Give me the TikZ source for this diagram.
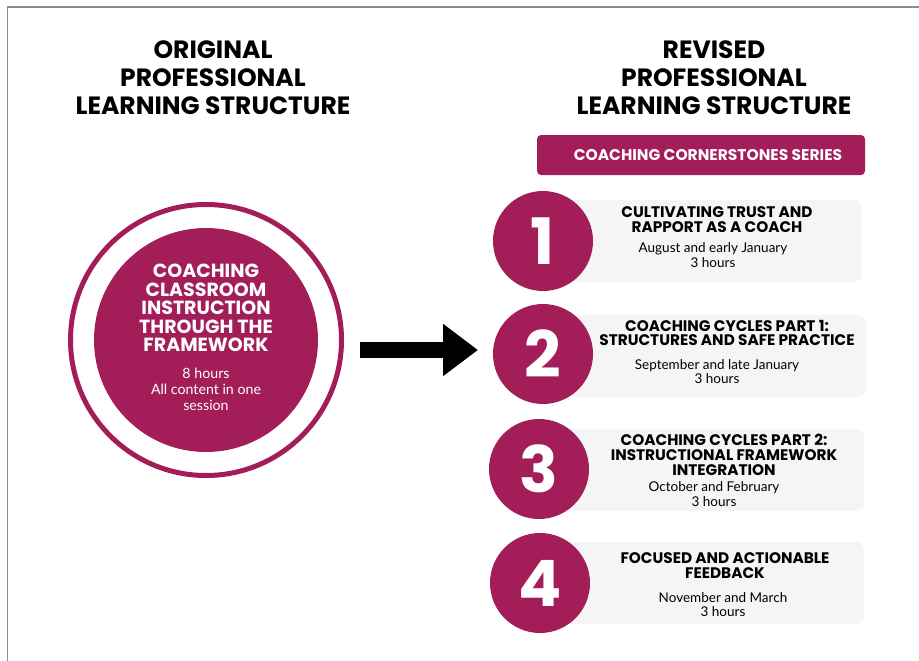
\documentclass[tikz,border=0pt]{standalone}
\usepackage{fontspec}
\setmainfont{Poppins}
\newfontfamily\bodyfont{Lato}
\usetikzlibrary{arrows.meta,positioning}
\definecolor{berry}{RGB}{163,30,88}
\definecolor{cardgray}{RGB}{245,245,245}
\definecolor{rulegray}{RGB}{140,140,140}

\begin{document}
\begin{tikzpicture}[x=1pt,y=-1pt,
	heading/.style={align=center, font=\fontsize{25}{28}\selectfont\bfseries},
	numdot/.style={circle, fill=berry, text=white, minimum size=100pt, inner sep=0pt, font=\fontsize{64}{64}\selectfont\bfseries},
	card/.style={fill=cardgray, rounded corners=8pt, minimum width=300pt, minimum height=82pt, inner sep=0pt},
	cardtitle/.style={align=center, font=\fontsize{15.3}{14.8}\selectfont\bfseries},
	cardsub/.style={align=center, font=\bodyfont\fontsize{13.5}{14.5}\selectfont}]
		\useasboundingbox (0,0) rectangle (919,661);
		\draw[rulegray, line width=1.5pt] (7.5,661) -- (7.5,7) -- (919,7);

		\node[heading] (lefthead) at (213,78) {ORIGINAL\\PROFESSIONAL\\LEARNING STRUCTURE};
		\node[heading] (righthead) at (714,78) {REVISED\\PROFESSIONAL\\LEARNING STRUCTURE};

		% the old single session
		\node[circle, draw=berry, line width=5pt, minimum size=271pt, inner sep=0pt] (ring) at (206,340) {};
		\node[circle, fill=berry, minimum size=224pt, inner sep=0pt] (core) at (206,340) {};
		\node[align=center, text=white, font=\fontsize{19}{18.6}\selectfont\bfseries] (coretitle) at (206,308) {COACHING\\CLASSROOM\\INSTRUCTION\\THROUGH THE\\FRAMEWORK};
		\node[align=center, text=white, font=\bodyfont\fontsize{14.2}{16}\selectfont] (coresub) at (206,389) {8 hours\\All content in one\\session};

		\coordinate (arrfrom) at (360,350);
		\coordinate (arrto) at (478,350);
		\draw[line width=16pt, -{Triangle[length=35pt, width=50pt]}] (arrfrom) -- (arrto);

		\node[fill=berry, rounded corners=4pt, minimum width=328pt, minimum height=40pt] (series) at (701,155) {};
		\node[text=white, font=\fontsize{15.5}{15.5}\selectfont\bfseries] (serieslabel) at (708,155) {COACHING CORNERSTONES SERIES};

		% the four sessions
		\node[card] (card1) at (712,241) {};
		\node[card] (card2) at (716,356) {};
		\node[card] (card3) at (714,470) {};
		\node[card] (card4) at (714,583) {};

		\node[numdot] (num1) at (543,241) {1};
		\node[numdot] (num2) at (543,354) {2};
		\node[numdot] (num3) at (539,469) {3};
		\node[numdot] (num4) at (540,583) {4};

		\node[cardtitle] (title1) at (717,219.5) {CULTIVATING TRUST AND\\RAPPORT AS A COACH};
		\node[cardsub] (sub1) at (713,255) {August and early January\\3 hours};

		\node[cardtitle] (title2) at (727,333) {COACHING CYCLES PART 1:\\STRUCTURES AND SAFE PRACTICE};
		\node[cardsub] (sub2) at (717,371.5) {September and late January\\3 hours};

		\node[cardtitle] (title3) at (724,455) {COACHING CYCLES PART 2:\\INSTRUCTIONAL FRAMEWORK\\INTEGRATION};
		\node[cardsub] (sub3) at (714,494) {October and February\\3 hours};

		\node[cardtitle] (title4) at (725,565.5) {FOCUSED AND ACTIONABLE\\FEEDBACK};
		\node[cardsub] (sub4) at (723,604.5) {November and March\\3 hours};
	\end{tikzpicture}
\end{document}
